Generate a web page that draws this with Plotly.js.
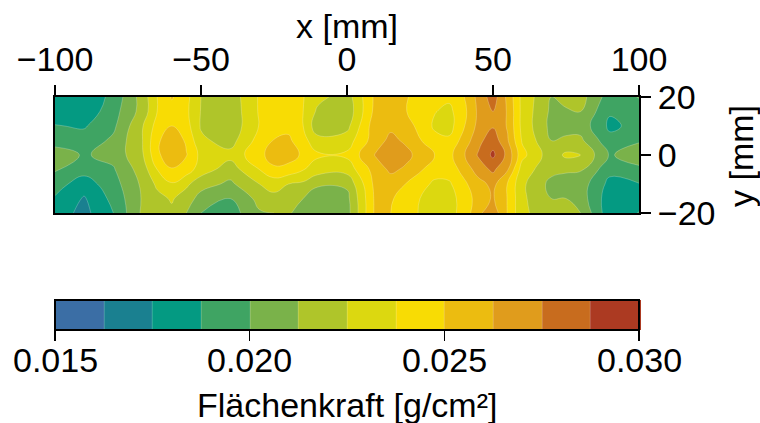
<!DOCTYPE html>
<html><head><meta charset="utf-8">
<script src="https://cdn.plot.ly/plotly-3.0.1.min.js"></script>
<style>html,body{margin:0;padding:0;background:#fff}</style></head>
<body><div id="c" style="width:760px;height:423px"></div>
<script>
const xValues=[-100,-90,-80,-70,-65,-60,-55,-50,-40,-30,-25,-20,-15,-10,0,10,15,20,30,35,40,45,50,55,60,70,75,80,90,100];
const yValues=[20,15,10,5,0,-5,-10,-15,-20];
const rowY20=[.01788,.01775,.01913,.02181,.02375,.02513,.02413,.0225,.02175,.02388,.02438,.0245,.02381,.02288,.02188,.02538,.02538,.02513,.02388,.024,.02494,.02663,.02813,.02594,.02338,.02125,.02156,.02175,.01938,.02006];
const rowY15=[.01813,.01788,.0195,.02175,.02375,.0245,.024,.02244,.02163,.02388,.02438,.0245,.02375,.02225,.02163,.0255,.02538,.02506,.02381,.02344,.02463,.0265,.0275,.02613,.02338,.021,.02113,.02125,.01888,.01938];
const rowY10=[.01881,.01863,.01975,.02244,.02425,.025,.02425,.02238,.02163,.02381,.02438,.02463,.02375,.02163,.02213,.02588,.026,.02563,.02356,.02325,.02488,.02663,.02738,.02613,.02338,.02088,.02075,.02075,.0185,.01913];
const rowY5=[.0195,.01925,.02025,.0225,.02475,.02588,.02481,.02275,.022,.02425,.02506,.02525,.02413,.023,.02313,.02575,.02656,.02606,.02413,.024,.0255,.02713,.02825,.02638,.02363,.02125,.0215,.0215,.01913,.01988];
const rowY0=[.02063,.01988,.02038,.02238,.02469,.026,.02506,.02338,.02288,.02463,.02563,.02563,.02475,.02394,.024,.02638,.02713,.02663,.025,.02463,.02613,.02763,.029,.02713,.02413,.02175,.02275,.0225,.01988,.02063];
const rowYm5=[.02013,.01925,.01988,.02188,.02375,.02488,.02438,.02313,.02188,.02375,.02475,.0245,.02381,.02313,.023,.02563,.0265,.02606,.02431,.02438,.02538,.02688,.02775,.02638,.02313,.02163,.0215,.02138,.01913,.01975];
const rowYm10=[.01925,.01813,.0195,.0215,.02275,.02363,.02275,.02175,.021,.0225,.023,.0225,.02225,.02138,.0215,.0255,.02563,.025,.0235,.02356,.02475,.02575,.02663,.02494,.02275,.02088,.0205,.02063,.01838,.01869];
const rowYm15=[.01863,.01738,.01913,.02138,.02213,.02263,.02188,.02075,.02,.02163,.02213,.022,.02125,.02075,.02088,.02538,.02519,.02425,.02325,.02338,.02413,.02563,.02638,.02494,.02275,.02125,.02125,.02063,.018,.01813];
const rowYm20=[.01813,.01713,.01875,.0215,.02175,.02225,.02125,.02,.01938,.02113,.02125,.02138,.02075,.02063,.02075,.02538,.025,.02413,.02325,.02338,.02413,.026,.027,.02494,.02275,.02175,.02163,.02125,.01788,.01881];
const zValues=[rowY20,rowY15,rowY10,rowY5,rowY0,rowYm5,rowYm10,rowYm15,rowYm20];
const bandColors=['#3b6ea5','#1a8090','#049a82','#3fa463','#7ab24a','#afc52a','#dcd810','#f8dc04','#ecbc10','#e09c1c','#c86c1e','#ac3a22'];
const xTicks=[-100,-50,0,50,100];
const yTicks=[-20,0,20];
const barTicks=[0.015,0.02,0.025,0.03];
const barLabels=['0.015','0.020','0.025','0.030'];
const scale=[];
bandColors.forEach((c,i)=>{scale.push([i/12,c]);scale.push([(i+1)/12,c]);});
const black='#000';
const FS=34;
const H=320, h=116;
const fig=(py)=>1-(py-97)/H;
const textFont={family:'Liberation Sans',size:FS,color:black};
const barLabelNotes=barTicks.map((t,i)=>({text:barLabels[i],xref:'paper',yref:'paper',x:(t-0.015)/0.015,y:fig(360),yanchor:'middle',xanchor:'center',showarrow:false,font:textFont}));
Plotly.newPlot('c',[{
  type:'contour',x:xValues,y:yValues,z:zValues,zauto:false,zmin:0.015,zmax:0.03,
  autocontour:false,
  contours:{start:0.015,end:0.03,size:0.00125,coloring:'fill',showlines:true},
  line:{color:'rgba(255,255,255,0.45)',width:0.5,smoothing:1.3},
  colorscale:scale,showscale:true,
  colorbar:{orientation:'h',lenmode:'pixels',len:584,thicknessmode:'pixels',thickness:30,
    x:0.5,xanchor:'center',y:fig(300),yanchor:'top',xpad:0,ypad:0,
    outlinecolor:black,outlinewidth:2,borderwidth:0,
    tickmode:'array',tickvals:barTicks,showticklabels:false,ticks:'outside',ticklen:10,tickwidth:1.5,tickcolor:black}
}],{
  width:760,height:423,margin:{l:55,r:121,t:97,b:6,pad:0},paper_bgcolor:'#fff',plot_bgcolor:'#fff',showlegend:false,
  font:{family:'Liberation Sans',size:FS,color:black},
  annotations:barLabelNotes.concat([
   {text:'Flächenkraft [g/cm²]',xref:'paper',yref:'paper',x:0.5,y:fig(405),yanchor:'middle',xanchor:'center',showarrow:false,font:textFont},
   {text:'x [mm]',xref:'paper',yref:'paper',x:0.5,y:fig(26),yanchor:'middle',xanchor:'center',showarrow:false,font:textFont},
   {text:'y [mm]',xref:'paper',yref:'paper',x:(741-55)/584,y:fig(156),yanchor:'middle',xanchor:'center',textangle:-90,showarrow:false,font:textFont}
  ]),
  xaxis:{side:'top',range:[-100,100],tickmode:'array',tickvals:xTicks,ticktext:['−100','−50','0','50','100'],ticks:'outside',ticklen:10,tickwidth:1.5,tickcolor:black,
    showgrid:false,zeroline:false,showline:true,linewidth:2,linecolor:black,mirror:true,tickfont:{size:FS}},
  yaxis:{side:'right',domain:[1-h/H,1],range:[-20,20],tickmode:'array',tickvals:yTicks,ticktext:['−20','0','20'],ticks:'outside',ticklen:10,tickwidth:1.5,tickcolor:black,
    showgrid:false,zeroline:false,showline:true,linewidth:2,linecolor:black,mirror:true,tickfont:{size:FS}}
},{displayModeBar:false,staticPlot:true});
</script></body></html>
